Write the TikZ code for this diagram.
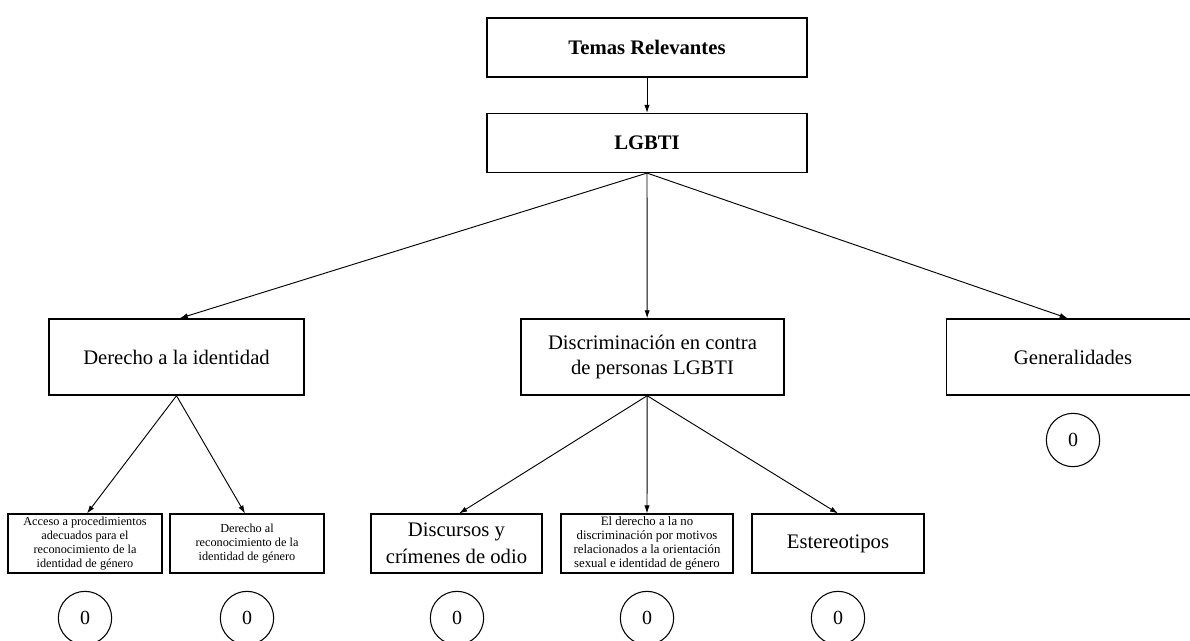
\documentclass[tikz,border=0pt]{standalone}
\usepackage{fontspec}
\setmainfont{Liberation Serif}
\usetikzlibrary{arrows.meta}

\tikzset{
  caja/.style={draw, line width=1.1pt, align=center, inner sep=0.5pt},
  grande/.style={font=\fontsize{15.5}{19}\selectfont},
  chica/.style={font=\fontsize{9.2}{10.5}\selectfont},
  cero/.style={draw, circle, line width=0.8pt, minimum size=40pt, inner sep=0pt, font=\fontsize{15}{17}\selectfont},
  flecha/.style={-{Latex[length=6pt,width=4pt]}, line width=0.7pt}
}

\begin{document}
\begin{tikzpicture}[x=0.75pt, y=-0.75pt]
  \useasboundingbox (0,0) rectangle (1190,640);

  % top
  \node[caja, minimum width=240pt, minimum height=44pt, font=\bfseries\fontsize{15.5}{17}\selectfont] (temas) at (647,47.5) {Temas Relevantes};
  \node[caja, minimum width=240pt, minimum height=44pt, font=\bfseries\fontsize{15.5}{17}\selectfont] (lgbti) at (647,143) {LGBTI};

  % second level
  \node[caja, grande, minimum width=191pt, minimum height=57pt] (identidad) at (176.5,357) {Derecho a la identidad};
  \node[caja, grande, minimum width=197pt, minimum height=57pt] (discrim) at (652.5,357) {Discriminación en contra\\de personas LGBTI};
  \node[caja, grande, minimum width=190pt, minimum height=57pt] (general) at (1073,357) {Generalidades};
  \node[cero] (c6) at (1073,440) {0};

  % third level
  \node[caja, chica, minimum width=115.5pt, minimum height=44pt] (acceso) at (85,543.5) {Acceso a procedimientos\\adecuados para el\\reconocimiento de la\\identidad de género};
  \node[caja, chica, minimum width=115.5pt, minimum height=44pt] (recono) at (247,543.5) {Derecho al\\reconocimiento de la\\identidad de género};
  \node[caja, minimum width=128pt, minimum height=44pt, font=\fontsize{15.5}{20}\selectfont] (odio) at (456.5,543.5) {Discursos y\\crímenes de odio};
  \node[caja, minimum width=129pt, minimum height=44pt, font=\fontsize{9.6}{10.4}\selectfont] (nodisc) at (647,543.5) {El derecho a la no\\discriminación por motivos\\relacionados a la orientación\\sexual e identidad de género};
  \node[caja, grande, minimum width=129pt, minimum height=44pt] (estereo) at (838,543.5) {Estereotipos};

  \node[cero] (c1) at (85,618) {0};
  \node[cero] (c2) at (247,618) {0};
  \node[cero] (c3) at (457,618) {0};
  \node[cero] (c4) at (647,618) {0};
  \node[cero] (c5) at (838,618) {0};

  % connectors
  \draw[flecha] (temas) -- (lgbti);
  \draw[flecha] (lgbti.south) -- ([xshift=2.5pt]identidad.north);
  \draw[flecha] (lgbti.south) -- ([xshift=-4pt]discrim.north);
  \draw[flecha] (lgbti.south) -- ([xshift=-4pt]general.north);
  \draw[flecha] (identidad.south) -- ([xshift=1.5pt]acceso.north);
  \draw[flecha] (identidad.south) -- ([xshift=-1.5pt]recono.north);
  \draw[flecha] ([xshift=-4pt]discrim.south) -- ([xshift=2pt]odio.north);
  \draw[flecha] ([xshift=-4pt]discrim.south) -- (nodisc.north);
  \draw[flecha] ([xshift=-4pt]discrim.south) -- (estereo.north);
\end{tikzpicture}
\end{document}
